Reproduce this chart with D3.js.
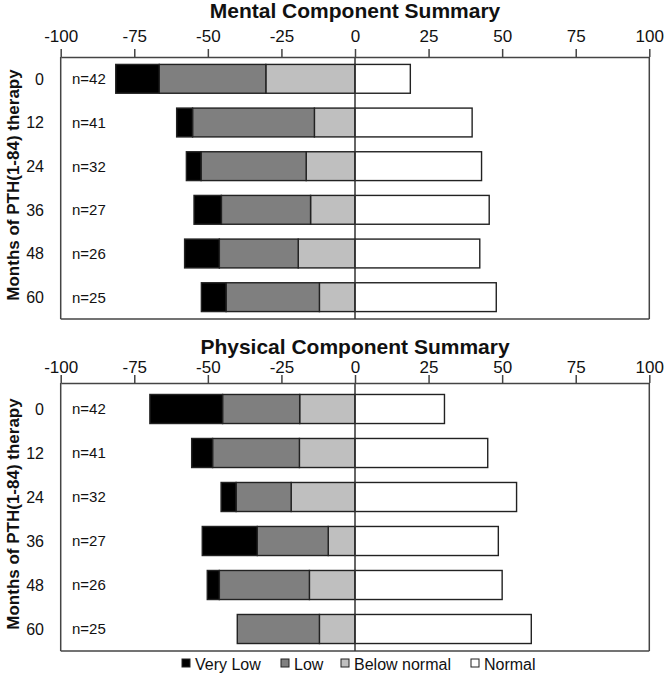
<!DOCTYPE html>
<html>
<head>
<meta charset="utf-8">
<script src="https://cdn.jsdelivr.net/npm/d3@7"></script>
<style>
  html, body { margin: 0; padding: 0; background: #fff; }
  svg { display: block; }
  text { font-family: "Liberation Sans", Arial, sans-serif; fill: #111; }
</style>
</head>
<body>
<svg id="chart" width="667" height="677"></svg>
<script>
// ---- Data (percent of patients) ----
const months = ["0", "12", "24", "36", "48", "60"];
const nLabels = ["n=42", "n=41", "n=32", "n=27", "n=26", "n=25"];
const xTicks = [-100, -75, -50, -25, 0, 25, 50, 75, 100];
const categoryNames = ["Very Low", "Low", "Below normal", "Normal"];
const categoryColors = ["#000000", "#7f7f7f", "#bfbfbf", "#ffffff"];

const mentalVeryLow     = [14.8, 5.4, 5.0, 9.3, 11.8, 8.4];
const mentalLow         = [36.2, 41.4, 35.7, 30.3, 26.8, 31.7];
const mentalBelowNormal = [30.3, 13.8, 16.6, 15.1, 19.3, 12.1];
const mentalNormal      = [18.8, 39.8, 43.0, 45.6, 42.4, 48.0];

const physicalVeryLow     = [24.7, 7.1, 5.1, 18.7, 4.1, 0];
const physicalLow         = [26.2, 29.5, 18.7, 24.1, 30.6, 27.9];
const physicalBelowNormal = [18.8, 18.9, 21.7, 9.1, 15.5, 12.1];
const physicalNormal      = [30.4, 45.1, 54.9, 48.7, 50.0, 59.9];

const panels = [
  { title: "Mental Component Summary", titleY: 18, tickY: 42, axisY: 57, bandTop: 57, bandBottom: 319,
    series: [mentalVeryLow, mentalLow, mentalBelowNormal, mentalNormal] },
  { title: "Physical Component Summary", titleY: 354, tickY: 373, axisY: 383, bandTop: 387, bandBottom: 651,
    series: [physicalVeryLow, physicalLow, physicalBelowNormal, physicalNormal] }
];

const svg = d3.select("#chart");
const x = d3.scaleLinear().domain([-100, 100]).range([60.7, 649.3]);
const lineColor = "#444";
const barStroke = "#222";

panels.forEach(p => {
  const g = svg.append("g");
  const y = d3.scaleBand().domain(months).range([p.bandTop, p.bandBottom])
    .paddingInner(0.34).paddingOuter(0.17);

  // title
  g.append("text").attr("x", x(0)).attr("y", p.titleY)
    .attr("text-anchor", "middle").style("font-size", "21px").style("font-weight", "bold")
    .text(p.title);

  // build segments
  const segs = [];
  months.forEach((m, i) => {
    const vl = p.series[0][i], lo = p.series[1][i], bn = p.series[2][i], nm = p.series[3][i];
    segs.push({ m, c: 2, x0: -bn, x1: 0 });
    segs.push({ m, c: 1, x0: -(bn + lo), x1: -bn });
    segs.push({ m, c: 0, x0: -(bn + lo + vl), x1: -(bn + lo) });
    segs.push({ m, c: 3, x0: 0, x1: nm });
  });

  g.selectAll("rect.seg").data(segs.filter(d => d.x1 - d.x0 > 0)).join("rect")
    .attr("class", "seg")
    .attr("x", d => x(d.x0))
    .attr("width", d => x(d.x1) - x(d.x0))
    .attr("y", d => y(d.m))
    .attr("height", y.bandwidth())
    .attr("fill", d => categoryColors[d.c])
    .attr("stroke", barStroke)
    .attr("stroke-width", 1.4);

  // box: left, right, bottom
  const bottom = p.bandBottom;
  g.append("line").attr("x1", x(-100)).attr("x2", x(-100)).attr("y1", p.axisY).attr("y2", bottom)
    .attr("stroke", lineColor).attr("stroke-width", 1.5);
  g.append("line").attr("x1", x(100)).attr("x2", x(100)).attr("y1", p.axisY).attr("y2", bottom)
    .attr("stroke", lineColor).attr("stroke-width", 1.5);
  g.append("line").attr("x1", x(-100)).attr("x2", x(100)).attr("y1", bottom).attr("y2", bottom)
    .attr("stroke", lineColor).attr("stroke-width", 1.5);
  // zero line
  g.append("line").attr("x1", x(0)).attr("x2", x(0)).attr("y1", p.axisY).attr("y2", bottom)
    .attr("stroke", "#333").attr("stroke-width", 1.5);

  // top axis
  const axis = d3.axisTop(x).tickValues(xTicks).tickSize(8).tickSizeOuter(0).tickPadding(4)
    .tickFormat(d3.format("d"));
  const ag = g.append("g").attr("transform", `translate(0,${p.axisY})`).call(axis);
  ag.select(".domain").attr("stroke", lineColor).attr("stroke-width", 1.5);
  ag.selectAll(".tick line").attr("stroke", lineColor).attr("stroke-width", 1.5);
  ag.selectAll(".tick text").attr("y", null).attr("dy", null)
    .attr("transform", `translate(0,${p.tickY - p.axisY})`)
    .style("font-size", "17px").style("font-family", "'Liberation Sans', Arial, sans-serif")
    .attr("fill", "#111")
    .text(d => d3.format("d")(d).replace("\u2212", "-"));

  // category labels
  g.selectAll("text.cat").data(months).join("text").attr("class", "cat")
    .attr("x", 44).attr("y", d => y(d) + y.bandwidth() / 2)
    .attr("dy", "0.36em").attr("text-anchor", "end").style("font-size", "16px")
    .text(d => d);

  // n labels
  g.selectAll("text.n").data(months).join("text").attr("class", "n")
    .attr("x", 72).attr("y", d => y(d) + y.bandwidth() / 2)
    .attr("dy", "0.36em").style("font-size", "15px")
    .text((d, i) => nLabels[i]);

  // y axis title
  const cy = (p.axisY + bottom) / 2 - 3;
  g.append("text").attr("transform", `translate(19,${cy}) rotate(-90)`)
    .attr("text-anchor", "middle").style("font-size", "17px").style("font-weight", "bold")
    .text("Months of PTH(1-84) therapy");
});

// legend
const legendX = [182, 281, 341, 471];
const lg = svg.append("g");
categoryNames.forEach((name, i) => {
  lg.append("rect").attr("x", legendX[i]).attr("y", 659).attr("width", 8).attr("height", 8)
    .attr("fill", categoryColors[i]).attr("stroke", "#222").attr("stroke-width", 1);
  lg.append("text").attr("x", legendX[i] + 13).attr("y", 670).style("font-size", "16px").text(name);
});
</script>
</body>
</html>
